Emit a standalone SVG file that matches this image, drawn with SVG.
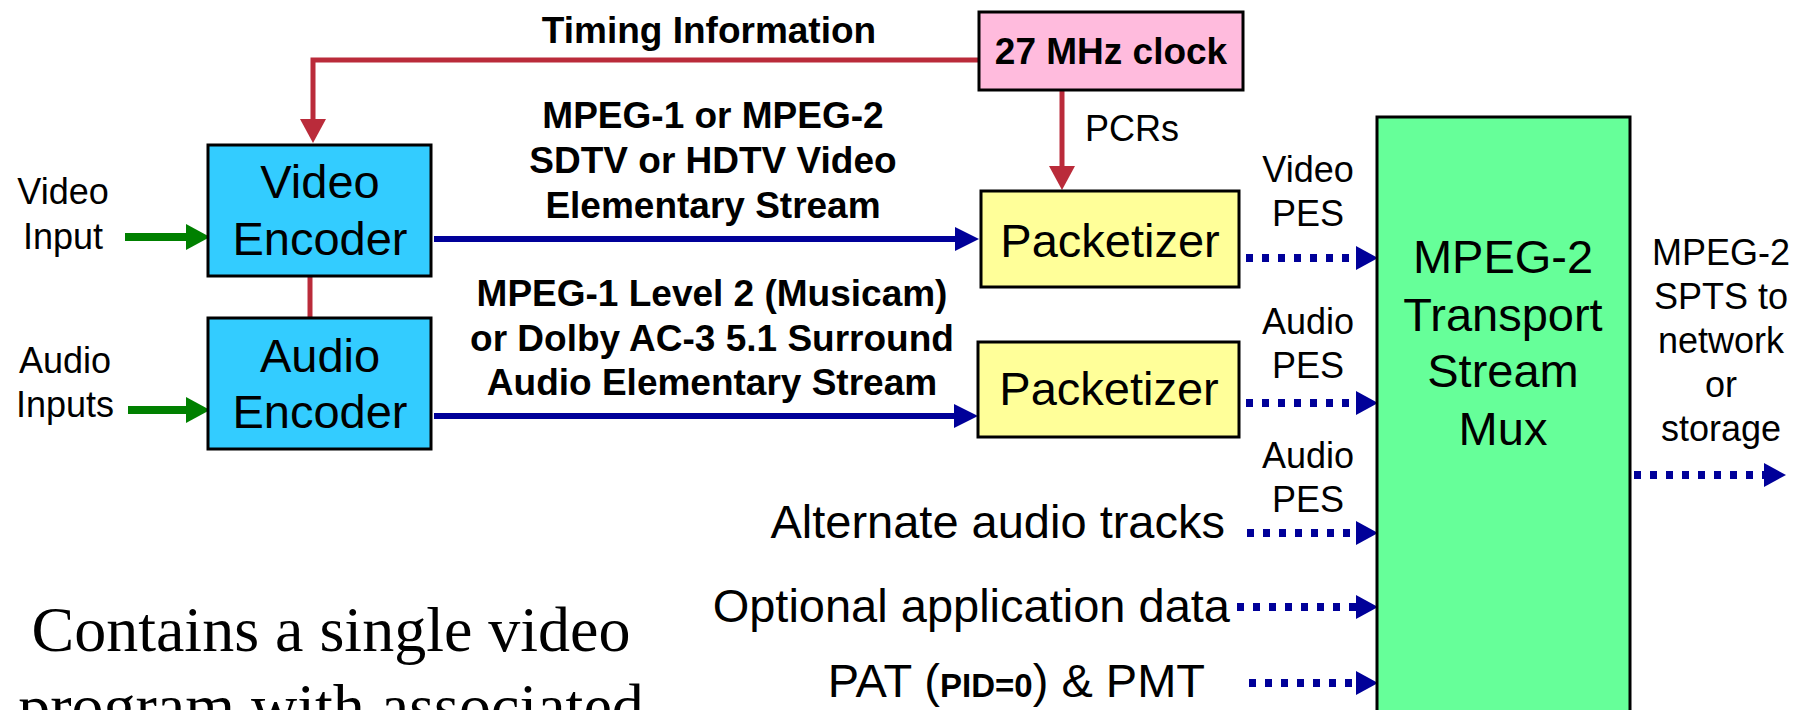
<svg xmlns="http://www.w3.org/2000/svg" width="1816" height="710" viewBox="0 0 1816 710">
<style>
  .box{stroke:#000;stroke-width:3}
  .lbl{font-family:"Liberation Sans",Arial,sans-serif;font-size:36px;fill:#000}
  .big{font-family:"Liberation Sans",Arial,sans-serif;font-size:47px;fill:#000}
  .bold{font-family:"Liberation Sans",Arial,sans-serif;font-size:37px;font-weight:bold;fill:#000}
  .serif{font-family:"Liberation Serif","Times New Roman",serif;font-size:64px;fill:#000}
  .mid{text-anchor:middle}
  .end{text-anchor:end}
  .red{fill:none;stroke:#BA2B3A;stroke-width:5}
  .green{fill:none;stroke:#008000;stroke-width:8}
  .blue{fill:none;stroke:#000099;stroke-width:6}
  .dot{fill:none;stroke:#000099;stroke-width:8;stroke-dasharray:7 9}
</style>
<defs>
  <marker id="aRed" markerUnits="userSpaceOnUse" markerWidth="24" markerHeight="26" refX="0" refY="13" orient="auto">
    <path d="M0,0 L24,13 L0,26 z" fill="#BA2B3A"/>
  </marker>
  <marker id="aGreen" markerUnits="userSpaceOnUse" markerWidth="24" markerHeight="26" refX="0" refY="13" orient="auto">
    <path d="M0,0 L24,13 L0,26 z" fill="#008000"/>
  </marker>
  <marker id="aBlue" markerUnits="userSpaceOnUse" markerWidth="24" markerHeight="24" refX="0" refY="12" orient="auto">
    <path d="M0,0 L24,12 L0,24 z" fill="#000099"/>
  </marker>
  <marker id="aDot" markerUnits="userSpaceOnUse" markerWidth="22" markerHeight="24" refX="0" refY="12" orient="auto">
    <path d="M0,0 L22,12 L0,24 z" fill="#000099"/>
  </marker>
</defs>
<rect width="1816" height="710" fill="#fff"/>

<g id="connectors">
  <path class="red" d="M980,60 H313 V119" marker-end="url(#aRed)"/>
  <path class="red" d="M1062,90 V166" marker-end="url(#aRed)"/>
  <path class="red" d="M310,276 V318"/>
  <path class="green" d="M125,237 H186" marker-end="url(#aGreen)"/>
  <path class="green" d="M128,410 H186" marker-end="url(#aGreen)"/>
  <path class="blue" d="M434,239 H955" marker-end="url(#aBlue)"/>
  <path class="blue" d="M434,416 H954" marker-end="url(#aBlue)"/>
  <path class="dot" d="M1246,258 H1356" marker-end="url(#aDot)"/>
  <path class="dot" d="M1246,403 H1356" marker-end="url(#aDot)"/>
  <path class="dot" d="M1247,533 H1356" marker-end="url(#aDot)"/>
  <path class="dot" d="M1237,607 H1356" marker-end="url(#aDot)"/>
  <path class="dot" d="M1249,683 H1356" marker-end="url(#aDot)"/>
  <path class="dot" d="M1634,475 H1764" marker-end="url(#aDot)"/>
</g>

<g id="timing-label">
  <text class="bold mid" x="709" y="43">Timing Information</text>
</g>
<g id="clock">
  <rect class="box" x="979" y="12" width="264" height="78" fill="#FFBBDD"/>
  <text class="bold mid" x="1111" y="64">27 MHz clock</text>
</g>
<g id="pcrs-label">
  <text class="lbl" x="1085" y="141">PCRs</text>
</g>

<g id="video-input-label">
  <text class="lbl mid" x="63" y="204">Video</text>
  <text class="lbl mid" x="63" y="249">Input</text>
</g>
<g id="audio-input-label">
  <text class="lbl mid" x="65" y="373">Audio</text>
  <text class="lbl mid" x="65" y="417">Inputs</text>
</g>

<g id="video-encoder">
  <rect class="box" x="208" y="145" width="223" height="131" fill="#33CCFF"/>
  <text class="big mid" x="320" y="198">Video</text>
  <text class="big mid" x="320" y="255">Encoder</text>
</g>
<g id="audio-encoder">
  <rect class="box" x="208" y="318" width="223" height="131" fill="#33CCFF"/>
  <text class="big mid" x="320" y="372">Audio</text>
  <text class="big mid" x="320" y="428">Encoder</text>
</g>

<g id="video-stream-label">
  <text class="bold mid" x="713" y="128">MPEG-1 or MPEG-2</text>
  <text class="bold mid" x="713" y="173">SDTV or HDTV Video</text>
  <text class="bold mid" x="713" y="218">Elementary Stream</text>
</g>
<g id="audio-stream-label">
  <text class="bold mid" x="712" y="306">MPEG-1 Level 2 (Musicam)</text>
  <text class="bold mid" x="712" y="351">or Dolby AC-3 5.1 Surround</text>
  <text class="bold mid" x="712" y="395">Audio Elementary Stream</text>
</g>

<g id="packetizer-video">
  <rect class="box" x="981" y="191" width="258" height="96" fill="#FFFF99"/>
  <text class="big mid" x="1110" y="257">Packetizer</text>
</g>
<g id="packetizer-audio">
  <rect class="box" x="978" y="342" width="261" height="95" fill="#FFFF99"/>
  <text class="big mid" x="1109" y="405">Packetizer</text>
</g>

<g id="pes-labels">
  <text class="lbl mid" x="1308" y="182">Video</text>
  <text class="lbl mid" x="1308" y="226">PES</text>
  <text class="lbl mid" x="1308" y="334">Audio</text>
  <text class="lbl mid" x="1308" y="378">PES</text>
  <text class="lbl mid" x="1308" y="468">Audio</text>
  <text class="lbl mid" x="1308" y="512">PES</text>
</g>

<g id="alternate-audio">
  <text class="big end" x="1225" y="538">Alternate audio tracks</text>
</g>
<g id="optional-data">
  <text class="big end" x="1230" y="622">Optional application data</text>
</g>
<g id="pat-pmt">
  <text class="big end" x="1205" y="697">PAT (<tspan font-size="33" font-weight="bold">PID=0</tspan>) &amp; PMT</text>
</g>

<g id="mux">
  <rect class="box" x="1377" y="117" width="253" height="610" fill="#66FF99"/>
  <text class="big mid" x="1503" y="273">MPEG-2</text>
  <text class="big mid" x="1503" y="331">Transport</text>
  <text class="big mid" x="1503" y="387">Stream</text>
  <text class="big mid" x="1503" y="445">Mux</text>
</g>

<g id="output-label">
  <text class="lbl mid" x="1721" y="265">MPEG-2</text>
  <text class="lbl mid" x="1721" y="309">SPTS to</text>
  <text class="lbl mid" x="1721" y="353">network</text>
  <text class="lbl mid" x="1721" y="397">or</text>
  <text class="lbl mid" x="1721" y="441">storage</text>
</g>

<g id="note">
  <text class="serif mid" x="331" y="651">Contains a single video</text>
  <text class="serif mid" x="331" y="728">program with associated</text>
</g>
</svg>
